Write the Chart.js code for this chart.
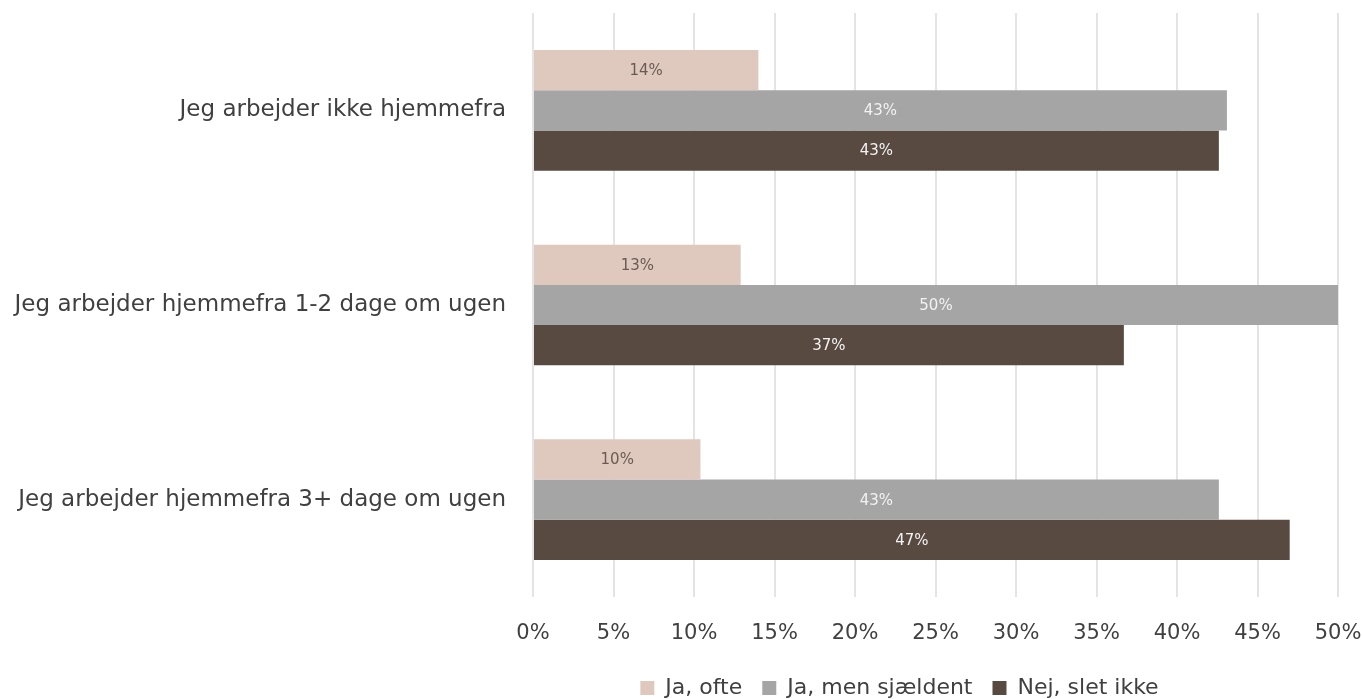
<!DOCTYPE html>
<html>
<head>
<meta charset="utf-8">
<script src="https://cdn.jsdelivr.net/npm/chart.js@4.4.1/dist/chart.umd.min.js"></script>
<style>
  html, body { margin: 0; padding: 0; background: #fff; }
  #wrap { width: 1362px; height: 699px; }
</style>
</head>
<body>
<div id="wrap"><canvas id="homeChart"></canvas></div>
<script>
const categories = [
    'Jeg arbejder ikke hjemmefra',
    'Jeg arbejder hjemmefra 1-2 dage om ugen',
    'Jeg arbejder hjemmefra 3+ dage om ugen'
];
const seriesNames = ['Ja, ofte', 'Ja, men sjældent', 'Nej, slet ikke'];
const jaOfte = [14.0, 12.9, 10.4];
const jaSjaeldent = [43.1, 50.0, 42.6];
const nejSletIkke = [42.6, 36.7, 47.0];
const xTicks = [0, 5, 10, 15, 20, 25, 30, 35, 40, 45, 50];

const FONT = '"DejaVu Sans", sans-serif';

// tekst midt i hver bjælke
const barLabels = {
    id: 'barLabels',
    afterDatasetsDraw(chart) {
        const ctx = chart.ctx;
        ctx.save();
        ctx.font = '15px ' + FONT;
        ctx.textAlign = 'center';
        ctx.textBaseline = 'middle';
        chart.data.datasets.forEach((ds, i) => {
            const meta = chart.getDatasetMeta(i);
            meta.data.forEach((bar, j) => {
                const v = ds.data[j];
                ctx.fillStyle = ds.labelColor;
                ctx.fillText(Math.round(v) + '%', (bar.base + bar.x) / 2, bar.y + 1);
            });
        });
        ctx.restore();
    }
};

// flyt legenden lidt til venstre, som i originalen
const legendShift = {
    id: 'legendShift',
    afterLayout(chart) {
        const lg = chart.legend;
        if (lg) { lg.left -= 36; lg.right -= 36; }
    }
};

const ctx = document.getElementById('homeChart').getContext('2d');
new Chart(ctx, {
    type: 'bar',
    data: {
        labels: categories,
        datasets: [
            {label: seriesNames[0], data: jaOfte, backgroundColor: '#dfc9bf', labelColor: '#6a5b52'},
            {label: seriesNames[1], data: jaSjaeldent, backgroundColor: '#a5a5a5', labelColor: '#f2f2f2'},
            {label: seriesNames[2], data: nejSletIkke, backgroundColor: '#594a41', labelColor: '#f2f2f2'}
        ]
    },
    options: {
        indexAxis: 'y',
        responsive: true,
        maintainAspectRatio: false,
        animation: false,
        layout: {padding: {top: 13, right: 0, left: 0, bottom: -10}},
        datasets: {bar: {categoryPercentage: 0.62, barPercentage: 1.0}},
        scales: {
            x: {
                min: 0,
                max: 50,
                afterBuildTicks: (axis) => { axis.ticks = xTicks.map(v => ({value: v})); },
                afterFit: (axis) => {
                    axis.height = 60;
                    axis.paddingLeft = 0;
                    axis.paddingRight = 24;
                },
                grid: {color: '#e4e4e4', lineWidth: 2, drawTicks: false},
                border: {display: false},
                ticks: {
                    padding: 24,
                    color: '#404040',
                    font: {family: FONT, size: 21},
                    callback: (v) => v + '%'
                }
            },
            y: {
                afterFit: (axis) => {
                    axis.width = 533;
                    axis.paddingTop = 0;
                    axis.paddingBottom = 0;
                },
                grid: {display: false},
                border: {display: false},
                ticks: {
                    padding: 19,
                    color: '#404040',
                    font: {family: FONT, size: 23}
                }
            }
        },
        plugins: {
            tooltip: {enabled: false},
            legend: {
                position: 'bottom',
                fullSize: false,
                labels: {
                    boxWidth: 14,
                    boxHeight: 14,
                    padding: 20,
                    color: '#404040',
                    font: {family: FONT, size: 22}
                }
            }
        }
    },
    plugins: [barLabels, legendShift]
});
</script>
</body>
</html>
